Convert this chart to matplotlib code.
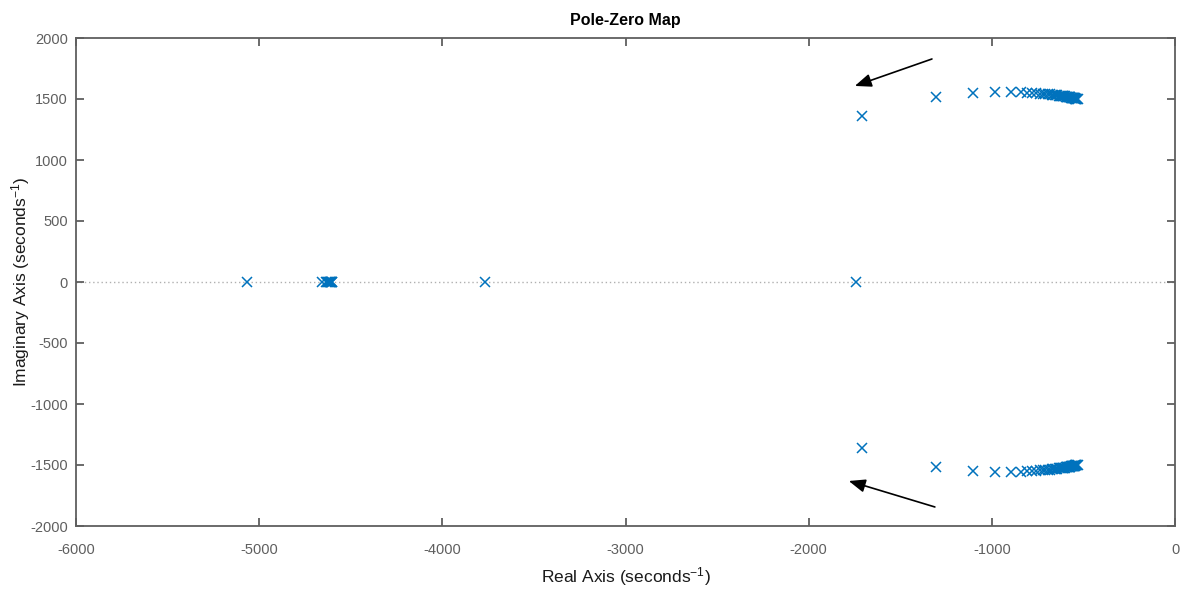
import matplotlib
matplotlib.use("Agg")
import matplotlib.pyplot as plt
import numpy as np

# ---- data ----
real_poles = [-5067, -4659, -4636, -4630, -4625, -4620, -4616, -4612, -4609,
              -4606, -4603, -4600, -3767, -1742]

complex_re = [-1710, -1306, -1104, -980, -896, -843, -808, -780, -757, -738,
              -722, -708, -695, -684, -674, -665, -657, -649, -642, -636,
              -630, -624, -619, -614, -609, -604, -600, -596, -592, -588,
              -584, -580, -577, -574, -571, -568, -565, -562, -559, -556,
              -553, -550, -547, -544, -541, -538, -535, -532]
complex_im = [1361, 1516, 1549, 1557, 1558, 1556, 1553, 1550, 1547, 1545,
              1543, 1541, 1539, 1537, 1535, 1533, 1532, 1530, 1529, 1528,
              1527, 1526, 1525, 1524, 1523, 1522, 1521, 1520, 1519, 1518,
              1517, 1516, 1515, 1514, 1513, 1512, 1511, 1510, 1509, 1508,
              1507, 1506, 1505, 1504, 1503, 1502, 1501, 1500]

xticks = [-6000, -5000, -4000, -3000, -2000, -1000, 0]
yticks = [-2000, -1500, -1000, -500, 0, 500, 1000, 1500, 2000]

# arrows (tail -> head) in data coordinates
arrow_upper = ((-1327, 1828), (-1748, 1607))
arrow_lower = ((-1311, -1844), (-1781, -1631))

# ---- style ----
FONT = ['Liberation Sans', 'DejaVu Sans']
plt.rcParams['font.family'] = FONT
plt.rcParams['axes.unicode_minus'] = False
plt.rcParams['mathtext.fontset'] = 'custom'
plt.rcParams['mathtext.rm'] = 'Liberation Sans'
plt.rcParams['mathtext.it'] = 'Liberation Sans'
plt.rcParams['mathtext.default'] = 'regular'

GREY = '#5f5f5f'
BLUE = '#0072BD'

fig = plt.figure(figsize=(11.87, 5.90), dpi=100)
ax = fig.add_axes([76/1187, 1 - 526/590, (1175 - 76)/1187, 488/590])

ax.axhline(0, color='#b0b0b0', lw=1.0, ls=(0, (1, 2)), zorder=1)

ax.plot(real_poles, [0]*len(real_poles), ls='none', marker='x', ms=7,
        mew=1.1, color=BLUE, zorder=3)
ax.plot(complex_re, complex_im, ls='none', marker='x', ms=7, mew=1.1,
        color=BLUE, zorder=3)
ax.plot(complex_re, [-v for v in complex_im], ls='none', marker='x', ms=7,
        mew=1.1, color=BLUE, zorder=3)

for tail, head in (arrow_upper, arrow_lower):
    ax.annotate('', xy=head, xytext=tail,
                arrowprops=dict(arrowstyle='-|>,head_length=1.0,head_width=0.4',
                                color='black', lw=1.2, shrinkA=0, shrinkB=0))

ax.set_xlim(-6000, 0)
ax.set_ylim(-2000, 2000)
ax.set_xticks(xticks)
ax.set_yticks(yticks)
ax.tick_params(direction='in', length=6, width=1.3, colors=GREY,
               labelsize=10.5, top=True, right=True)
ax.tick_params(axis='x', pad=12)
ax.tick_params(axis='y', pad=6)
for s in ax.spines.values():
    s.set_color(GREY)
    s.set_linewidth(1.3)

ax.set_xlabel('Real Axis (seconds$^{-1}$)', fontsize=12.5, color='#1a1a1a')
ax.set_ylabel('Imaginary Axis (seconds$^{-1}$)', fontsize=12.5, color='#1a1a1a')
ax.xaxis.set_label_coords(0.5, -(565 - 526) / 488)
ax.yaxis.set_label_coords(-(76 - 32) / 1099, 0.5)
ax.set_title('Pole-Zero Map', fontsize=11.5, fontweight='bold', color='black', pad=9)

fig.savefig('out.png', dpi=100)
